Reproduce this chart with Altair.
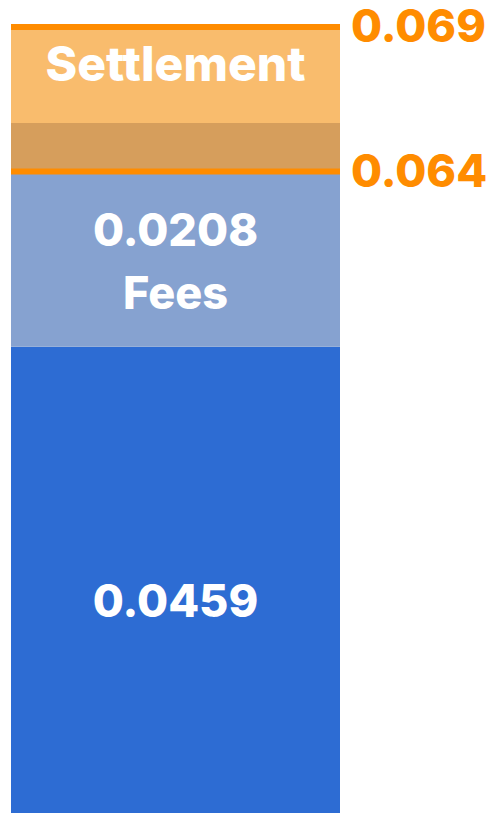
import altair as alt
import pandas as pd

# ---- data ----
category = "Cost"
segment_names = ["Base", "Fees"]
segment_values = [0.0459, 0.0208]
segment_labels = ["0.0459", "0.0208\nFees"]
settlement_low = 0.064
settlement_high = 0.069
settlement_label = "Settlement"
threshold_labels = ["0.064", "0.069"]

# ---- styles ----
BLUE = "#2D6CD3"
LIGHT_BLUE = "#86A2D0"
LIGHT_ORANGE = "#F9BC6D"
TAN = "#D69E5C"
ORANGE = "#FF8C00"
FONT = "Inter"
FS_NUM = 45
FS_WORD = 48

base_end = segment_values[0]
fees_end = segment_values[0] + segment_values[1]
overlap_lo = max(settlement_low, base_end)
overlap_hi = min(settlement_high, fees_end)

rects = pd.DataFrame({
    "cat": [category] * 4,
    "name": ["Base", "Fees", "Settlement", "Overlap"],
    "start": [0.0, base_end, settlement_low, overlap_lo],
    "end": [base_end, fees_end, settlement_high, overlap_hi],
    "color": [BLUE, LIGHT_BLUE, LIGHT_ORANGE, TAN],
})

thresholds = pd.DataFrame({
    "cat": [category] * 2,
    "value": [settlement_low, settlement_high],
    "label": threshold_labels,
})

# schematic (piecewise) vertical scale as in the reference
yscale = alt.Scale(
    domain=[0.0, base_end, settlement_low, fees_end, settlement_high],
    range=[851, 338.7, 163.5, 115, 19],
    zero=False, nice=False,
)
xscale = alt.Scale(domain=[category], range=[3, 332], paddingInner=0, paddingOuter=0)

X = alt.X("cat:N", scale=xscale, axis=None)

bars = alt.Chart(rects).mark_bar().encode(
    x=X,
    y=alt.Y("start:Q", scale=yscale, axis=None),
    y2="end:Q",
    color=alt.Color("color:N", scale=None),
)

ticks = alt.Chart(thresholds).mark_tick(thickness=6, size=329, color=ORANGE, opacity=1).encode(
    x=X,
    y=alt.Y("value:Q", scale=yscale, axis=None),
)

tick_labels = alt.Chart(thresholds).mark_text(
    align="left", baseline="middle", dx=11, dy=1, fontSize=FS_NUM, font=FONT,
    fontWeight=800, color=ORANGE,
).encode(
    x=alt.X("cat:N", scale=xscale, axis=None, bandPosition=1),
    y=alt.Y("value:Q", scale=yscale, axis=None),
    text="label:N",
)

text_style = dict(align="center", baseline="middle", font=FONT,
                  fontWeight=800, color="white", lineBreak="\n", lineHeight=63)

base_label = alt.Chart(pd.DataFrame({
    "cat": [category], "label": [segment_labels[0]], "pos": [base_end / 2],
})).mark_text(fontSize=FS_NUM, **text_style).encode(
    x=X, y=alt.Y("pos:Q", scale=yscale, axis=None), text="label:N",
)

fees_label = alt.Chart(pd.DataFrame({
    "cat": [category], "label": [segment_labels[1]], "pos": [(base_end + settlement_low) / 2],
})).mark_text(dy=-27, fontSize=FS_NUM, **text_style).encode(
    x=X, y=alt.Y("pos:Q", scale=yscale, axis=None), text="label:N",
)

settle_label = alt.Chart(pd.DataFrame({
    "cat": [category], "label": [settlement_label], "pos": [(fees_end + settlement_high) / 2],
})).mark_text(dy=-8, fontSize=FS_WORD, **text_style).encode(
    x=X, y=alt.Y("pos:Q", scale=yscale, axis=None), text="label:N",
)

chart = alt.layer(bars, ticks, tick_labels, base_label, fees_label, settle_label).properties(
    width=479, height=851, padding=0, background="white",
    autosize=alt.AutoSizeParams(type="none"),
).configure_view(stroke=None)

chart.save("out.html", embed_options={"renderer": "svg", "actions": False})
